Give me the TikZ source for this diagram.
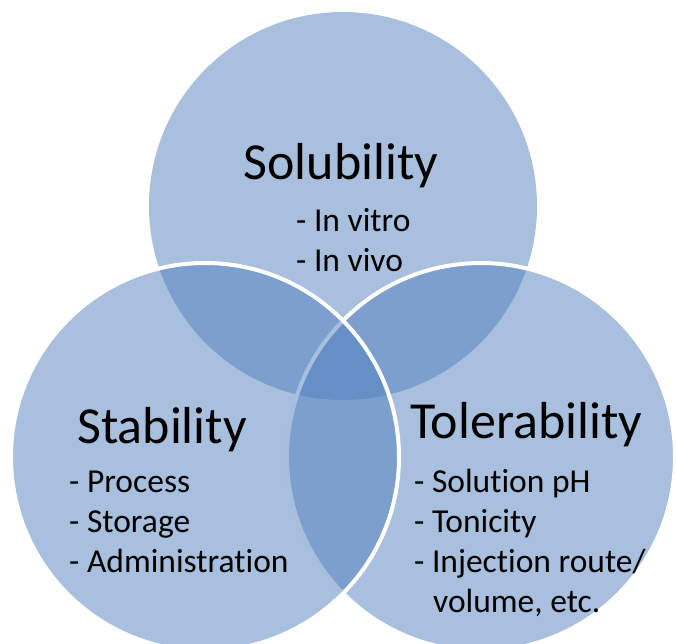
\documentclass[tikz,border=0pt]{standalone}
\usepackage{fontspec}
\setmainfont{Carlito}[Ligatures=NoCommon]
\definecolor{vennblue}{RGB}{81,127,189}
\tikzset{
	venn/.style={fill=vennblue,fill opacity=0.5},
	vennedge/.style={venn,draw=white,line width=4pt},
	heading/.style={inner sep=0pt,font=\fontsize{52}{60}\selectfont},
	item/.style={inner sep=0pt,anchor=base west,font=\fontsize{33.5}{40}\selectfont}
}
\begin{document}
\begin{tikzpicture}[x=1pt,y=-1pt]
	\useasboundingbox (0,0) rectangle (676,643);
	\clip (0,0) rectangle (676,643);
	% three overlapping circles
	\fill[venn] (343,206) circle (194);
	\draw[vennedge] (481,457) circle (194);
	\draw[vennedge] (205,457) circle (194);
	% solubility
	\node[heading,anchor=base] (sol) at (341,179) {Solubility};
	\foreach \t [count=\i] in {In vitro,In vivo}
	{
		\node[item] (sol\i) at (296,191+40*\i) {- \t};
		}
	% stability
	\node[heading,anchor=base west] (stab) at (77,443) {Stability};
	\foreach \t [count=\i] in {Process,Storage,Administration}
	{
		\node[item] (stab\i) at (69,452+40*\i) {- \t};
		}
	% tolerability
	\node[heading,anchor=base west] (tol) at (410,438) {Tolerability};
	\foreach \t [count=\i] in {Solution pH,Tonicity,Injection route/}
	{
		\node[item] (tol\i) at (414,452+40*\i) {- \t};
		}
	\node[item] (tol4) at (433,612) {volume, etc.};
\end{tikzpicture}
\end{document}
